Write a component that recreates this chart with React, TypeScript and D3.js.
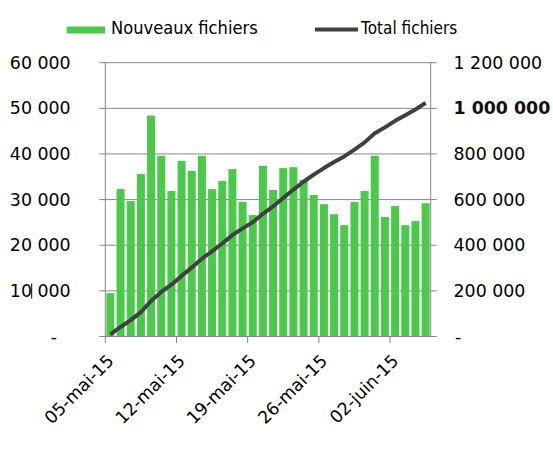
import React from "react";
import * as d3 from "d3";

const dates: string[] = [
  "2015-05-05", "2015-05-06", "2015-05-07", "2015-05-08", "2015-05-09", "2015-05-10", "2015-05-11", "2015-05-12",
  "2015-05-13", "2015-05-14", "2015-05-15", "2015-05-16", "2015-05-17", "2015-05-18", "2015-05-19", "2015-05-20",
  "2015-05-21", "2015-05-22", "2015-05-23", "2015-05-24", "2015-05-25", "2015-05-26", "2015-05-27", "2015-05-28",
  "2015-05-29", "2015-05-30", "2015-05-31", "2015-06-01", "2015-06-02", "2015-06-03", "2015-06-04", "2015-06-05",
];

const nouveauxFichiers: number[] = [
  9500, 32300, 29700, 35600, 48400, 39600, 31900, 38500,
  36300, 39600, 32300, 34100, 36700, 29500, 26600, 37400,
  32100, 36900, 37100, 34300, 31000, 29000, 26800, 24400,
  29500, 31900, 39600, 26200, 28600, 24400, 25300, 29200,
];

const totalFichiers: number[] = [
  9500, 41800, 71500, 107100, 155500, 195100, 227000, 265500,
  301700, 341300, 373600, 407600, 444300, 473800, 500400, 537800,
  569800, 606800, 643900, 678200, 709200, 738200, 765000, 789400,
  818900, 850800, 890400, 916500, 945100, 969500, 994700, 1024000,
];

const leftTicks: number[] = [0, 10000, 20000, 30000, 40000, 50000, 60000];
const leftTickLabels: string[] = ["-", "10 000", "20 000", "30 000", "40 000", "50 000", "60 000"];
const rightTicks: number[] = [0, 200000, 400000, 600000, 800000, 1000000, 1200000];
const rightTickLabels: string[] = ["-", "200 000", "400 000", "600 000", "800 000", "1 000 000", "1 200 000"];
const xTickDates: string[] = ["2015-05-05", "2015-05-12", "2015-05-19", "2015-05-26", "2015-06-02"];
const xTickLabels: string[] = ["05-mai-15", "12-mai-15", "19-mai-15", "26-mai-15", "02-juin-15"];
const seriesNames: string[] = ["Nouveaux fichiers", "Total fichiers"];

const FONT = "'DejaVu Sans', Verdana, sans-serif";
const GREEN = "#4cc94c";
const DARK = "#404040";
const GRID = "#878787";
const FS = 17.4;

export default function App() {
  const W = 553, H = 457;
  const left = 105.3, right = 430.7, top = 62.7, bottom = 336.5;
  const parse = (s: string) => new Date(s + "T00:00:00Z");
  const endDate = d3.utcDay.offset(parse(dates[dates.length - 1]), 1);

  const x = d3.scaleUtc().domain([parse(dates[0]), endDate]).range([left, right]);
  const yL = d3.scaleLinear().domain([0, 60000]).range([bottom, top]);
  const yR = d3.scaleLinear().domain([0, 1200000]).range([bottom, top]);

  const dayW = x(d3.utcDay.offset(parse(dates[0]), 1)) - x(parse(dates[0]));
  const barW = 8;
  const cx = (s: string) => x(parse(s)) + dayW / 2;

  const line = d3
    .line<number>()
    .x((_, i) => cx(dates[i]))
    .y((d) => yR(d));

  return (
    <svg
      width={W}
      height={H}
      style={{ position: "absolute", left: 0, top: 0, background: "#fff" }}
      fontFamily={FONT}
    >
      <rect x={0} y={0} width={W} height={H} fill="#fff" />
      {/* gridlines */}
      {leftTicks.map((t) => (
        <line key={"g" + t} x1={left} x2={right} y1={yL(t)} y2={yL(t)} stroke={GRID} strokeWidth={1} />
      ))}
      {/* axes */}
      <line x1={left} x2={left} y1={top} y2={bottom} stroke={GRID} strokeWidth={1} />
      <line x1={right} x2={right} y1={top} y2={bottom} stroke={GRID} strokeWidth={1} />
      {leftTicks.map((t) => (
        <line key={"lt" + t} x1={left - 6} x2={left} y1={yL(t)} y2={yL(t)} stroke={GRID} strokeWidth={1} />
      ))}
      {rightTicks.map((t) => (
        <line key={"rt" + t} x1={right} x2={right + 6} y1={yR(t)} y2={yR(t)} stroke={GRID} strokeWidth={1} />
      ))}
      {xTickDates.map((d) => (
        <line key={"xt" + d} x1={x(parse(d))} x2={x(parse(d))} y1={bottom} y2={bottom + 6.5} stroke={GRID} strokeWidth={1} />
      ))}
      {/* bars */}
      {nouveauxFichiers.map((v, i) => (
        <rect
          key={"b" + i}
          x={cx(dates[i]) - barW / 2}
          y={yL(v)}
          width={barW}
          height={bottom - yL(v)}
          fill={GREEN}
        />
      ))}
      <line x1={left} x2={right} y1={bottom} y2={bottom} stroke={GRID} strokeWidth={1} />
      {/* total line */}
      <path d={line(totalFichiers) || ""} fill="none" stroke={DARK} strokeWidth={4} strokeLinejoin="round" />
      {/* left labels */}
      {leftTicks.map((t, i) =>
        i === 0 ? (
          <text key={"ll" + t} x={54} y={yL(t)} dy="0.35em" textAnchor="middle" fontSize={FS} fill="#000">
            {leftTickLabels[i]}
          </text>
        ) : (
          <text key={"ll" + t} x={70.7} y={yL(t)} dy="0.35em" textAnchor="end" fontSize={FS} fill="#000">
            {leftTickLabels[i]}
          </text>
        )
      )}
      <line x1={31.7} x2={31.7} y1={283.5} y2={298.5} stroke="#000" strokeWidth={1} />
      {/* right labels */}
      {rightTicks.map((t, i) => (
        <text
          key={"rl" + t}
          x={i === 0 ? 455 : 453.5}
          y={yR(t)}
          dy="0.35em"
          textAnchor="start"
          fontSize={FS}
          fontWeight={t === 1000000 ? "bold" : "normal"}
          fill={t === 1000000 ? "#111" : "#000"}
        >
          {rightTickLabels[i]}
        </text>
      ))}
      {/* x labels */}
      {xTickDates.map((d, i) => {
        const ax = x(parse(d)) + 9.5;
        const ay = 362;
        return (
          <text
            key={"xl" + d}
            x={ax}
            y={ay}
            textAnchor="end"
            fontSize={FS}
            fill="#000"
            transform={`rotate(-45 ${ax} ${ay})`}
          >
            {xTickLabels[i]}
          </text>
        );
      })}
      {/* legend */}
      <rect x={66.7} y={26.5} width={38.3} height={7} fill={GREEN} />
      <text x={111} y={34.3} fontSize={FS} fill="#000" textLength={146.7} lengthAdjust="spacingAndGlyphs">
        {seriesNames[0]}
      </text>
      <line x1={315} x2={358} y1={29.5} y2={29.5} stroke={DARK} strokeWidth={4} />
      <text x={361} y={34.3} fontSize={FS} fill="#000" textLength={96.3} lengthAdjust="spacingAndGlyphs">
        {seriesNames[1]}
      </text>
    </svg>
  );
}
